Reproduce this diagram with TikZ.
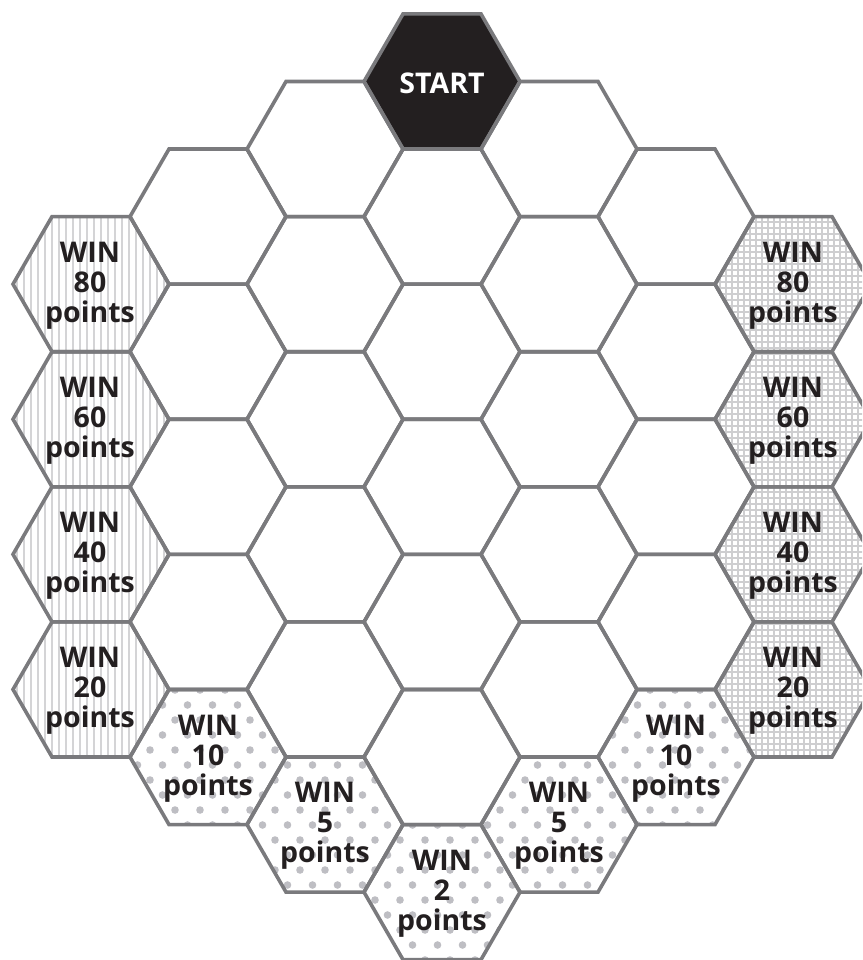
\documentclass[tikz,border=0pt]{standalone}
\usepackage{fontspec}
\setmainfont{Open Sans}
\definecolor{edgegray}{RGB}{122,122,125}
\definecolor{ink}{RGB}{35,31,32}
\definecolor{stripegray}{RGB}{212,212,214}
\definecolor{gridgray}{RGB}{206,206,208}
\definecolor{dotgray}{RGB}{190,190,195}
\newcommand\hexat[2]{(#1+78,#2) -- (#1+39,#2+67.55) -- (#1-39,#2+67.55) -- (#1-78,#2) -- (#1-39,#2-67.55) -- (#1+39,#2-67.55) -- cycle}
\tikzset{
  hexedge/.style={draw=edgegray, line width=3.6pt, line join=miter},
  wintext/.style={font=\bfseries\fontsize{28.5}{30}\selectfont, text=ink, align=center, inner sep=0pt},
  stripeline/.style={draw=stripegray, line width=2.2pt},
  gridline/.style={draw=gridgray, line width=1.5pt},
  dotfill/.style={fill=dotgray}
}
\begin{document}
\begin{tikzpicture}[x=1pt,y=-1pt]
\useasboundingbox (0,0) rectangle (862,960);
\clip (0,0) rectangle (862,960);
% striped hexes (left column)
\foreach \j in {0,...,3} {
  \pgfmathsetmacro\cx{442-351}
  \pgfmathsetmacro\cy{81.5+3*67.55+135.1*\j}
  \begin{scope}
    \clip \hexat{\cx}{\cy};
    \foreach \s in {0,...,24} {
      \draw[stripeline] (3+7*\s,\cy-72) -- (3+7*\s,\cy+72);
    }
  \end{scope}
}
% grid hexes (right column)
\foreach \j in {0,...,3} {
  \pgfmathsetmacro\cx{442+351}
  \pgfmathsetmacro\cy{81.5+3*67.55+135.1*\j}
  \begin{scope}
    \clip \hexat{\cx}{\cy};
    \foreach \s in {118,...,146} {
      \draw[gridline] (6*\s,\cy-72) -- (6*\s,\cy+72);
    }
    \pgfmathtruncatemacro\ra{floor((\cy-72)/6)}
    \pgfmathtruncatemacro\rb{ceil((\cy+72)/6)}
    \foreach \s in {\ra,...,\rb} {
      \draw[gridline] (700,6*\s) -- (870,6*\s);
    }
  \end{scope}
}
% dotted hexes (bottom)
\foreach \k/\cy in {0/892.1, -1/824.55, 1/824.55, -2/757, 2/757} {
  \pgfmathsetmacro\cx{442+117*\k}
  \pgfmathtruncatemacro\ma{floor((\cy-72)/15)}
  \pgfmathtruncatemacro\mb{ceil((\cy+72)/15)}
  \pgfmathtruncatemacro\na{floor((\cx-95)/25)}
  \pgfmathtruncatemacro\nb{ceil((\cx+95)/25)}
  \begin{scope}
    \clip \hexat{\cx}{\cy};
    \foreach \m in {\ma,...,\mb} {
      \pgfmathsetmacro\off{mod(\m,2)*12.5}
      \foreach \n in {\na,...,\nb} {
        \fill[dotfill] (25*\n+\off,15*\m) circle[radius=3.8];
      }
    }
  \end{scope}
}
% start fill
\fill[ink] \hexat{442}{81.5};
% outlines
\foreach \k in {-3,...,3} {
  \pgfmathtruncatemacro\n{6-abs(\k)}
  \foreach \j in {0,...,\n} {
    \pgfmathsetmacro\cx{442+117*\k}
    \pgfmathsetmacro\cy{81.5+67.55*abs(\k)+135.1*\j}
    \draw[hexedge] \hexat{\cx}{\cy};
  }
}
% texts
\node[wintext, text=white] (start) at (442,83) {START};
\node[wintext] (l80) at (90,286) {WIN\\80\\points};
\node[wintext] (l60) at (90,421) {WIN\\60\\points};
\node[wintext] (l40) at (90,556) {WIN\\40\\points};
\node[wintext] (l20) at (90,691) {WIN\\20\\points};
\node[wintext] (r80) at (793,286) {WIN\\80\\points};
\node[wintext] (r60) at (793,421) {WIN\\60\\points};
\node[wintext] (r40) at (793,556) {WIN\\40\\points};
\node[wintext] (r20) at (793,691) {WIN\\20\\points};
\node[wintext] (l10) at (208,759) {WIN\\10\\points};
\node[wintext] (r10) at (676,759) {WIN\\10\\points};
\node[wintext] (l5) at (325,826) {WIN\\5\\points};
\node[wintext] (r5) at (559,826) {WIN\\5\\points};
\node[wintext] (c2) at (442,894) {WIN\\2\\points};
\end{tikzpicture}
\end{document}
